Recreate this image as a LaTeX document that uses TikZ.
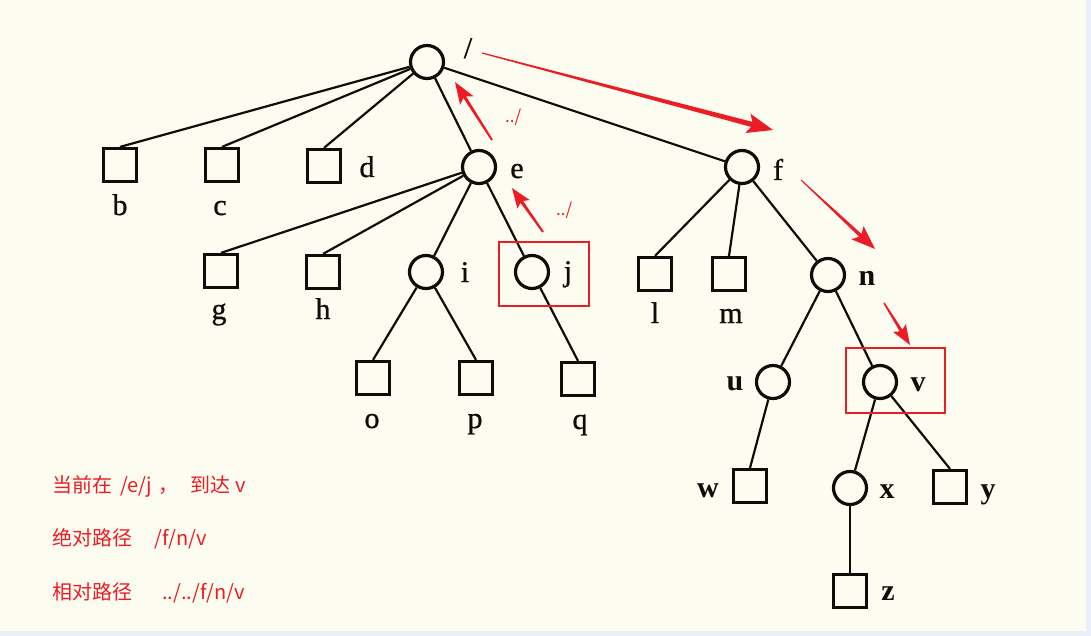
\documentclass[tikz,border=0pt]{standalone}
\usepackage{fontspec}
\setmainfont{Liberation Serif}
\newfontfamily\labfont[FakeBold=0.8]{Liberation Serif}
\newfontfamily\cjk{Noto Sans CJK SC}
\usetikzlibrary{calc}
\definecolor{paper}{RGB}{253,252,240}
\definecolor{edgeblue}{RGB}{234,240,250}
\definecolor{annred}{RGB}{236,28,36}
\definecolor{ink}{RGB}{15,12,10}
\tikzset{
  dirn/.style={circle, draw=ink, line width=3.2pt, minimum size=33pt, inner sep=0pt, fill=paper},
  filebox/.style={rectangle, draw=ink, line width=3.2pt, minimum size=33pt, inner sep=0pt, fill=paper},
  edge/.style={draw=ink, line width=2.2pt},
  lab/.style={font=\labfont\fontsize{30}{30}\selectfont, text=ink, inner sep=0pt, anchor=base},
  blab/.style={lab, font=\fontsize{30}{30}\selectfont\bfseries},
  note/.style={font=\cjk\fontsize{20}{20}\selectfont, text=annred, inner sep=0pt, anchor=base west},
  dotnote/.style={note, font=\cjk\fontsize{17}{17}\selectfont},
  markbox/.style={draw=annred, line width=1.6pt},
}
% #1 tail, #2 tip, #3 tail half width, #4 shaft half width, #5 head length, #6 head half width, #7 notch
\newcommand{\redarrow}[7]{%
  \coordinate (hb) at ($(#2)!#5pt!(#1)$);
  \coordinate (hn) at ($(#2)!#5pt-#7pt!(#1)$);
  \fill[annred] ($(#1)!#3pt!90:(#2)$) -- ($(hn)!#4pt!90:(#2)$) -- ($(hb)!#6pt!90:(#2)$) -- (#2)
     -- ($(hb)!#6pt!-90:(#2)$) -- ($(hn)!#4pt!-90:(#2)$) -- ($(#1)!#3pt!-90:(#2)$) -- cycle;
}
\begin{document}
\begin{tikzpicture}[x=1pt, y=-1pt]
\useasboundingbox (0,0) rectangle (1091,636);
\fill[paper] (0,0) rectangle (1091,636);
\fill[edgeblue] (1086,0) rectangle (1091,636);
\fill[edgeblue] (0,631) rectangle (1091,636);

% tree nodes
\node[dirn] (root) at (427,62) {};
\node[filebox] (b) at (120,165) {};
\node[filebox] (c) at (222,165) {};
\node[filebox] (d) at (324,166) {};
\node[dirn] (e) at (479,167) {};
\node[dirn] (f) at (742,167) {};
\node[filebox] (g) at (221,271) {};
\node[filebox] (h) at (323,272) {};
\node[dirn] (i) at (426,272) {};
\node[dirn] (j) at (532,272) {};
\node[filebox] (l) at (655,274) {};
\node[filebox] (m) at (729,274) {};
\node[dirn] (n) at (828,275) {};
\node[filebox] (o) at (373,378) {};
\node[filebox] (p) at (476,378) {};
\node[filebox] (q) at (578,379) {};
\node[dirn] (u) at (773,382) {};
\node[dirn] (v) at (880,382) {};
\node[filebox] (w) at (750,486) {};
\node[dirn] (x) at (850,488) {};
\node[filebox] (y) at (950,487) {};
\node[filebox] (z) at (850,591) {};

% edges
\draw[edge] (root) -- (b.north);
\draw[edge] (root) -- (c.north);
\draw[edge] (root) -- (d.north);
\draw[edge] (root) -- (e);
\draw[edge] (root) -- (f);
\draw[edge] (e) -- (g.north);
\draw[edge] (e) -- (h.north);
\draw[edge] (e) -- (i);
\draw[edge] (e) -- (j);
\draw[edge] (f) -- (l.north);
\draw[edge] (f) -- (m.north);
\draw[edge] (f) -- (n);
\draw[edge] (i) -- (o.north);
\draw[edge] (i) -- (p.north);
\draw[edge] (j) -- (q.north);
\draw[edge] (n) -- (u);
\draw[edge] (n) -- (v);
\draw[edge] (u) -- (w.north);
\draw[edge] (v) -- (x);
\draw[edge] (v) -- (y.north);
\draw[edge] (x) -- (z.north);

% labels
\node[lab] (lroot) at (468,58) {/};
\node[lab] (lb) at (120,215) {b};
\node[lab] (lc) at (220,215) {c};
\node[lab] (ld) at (367,177) {d};
\node[lab] (le) at (517,178) {e};
\node[lab] (lf) at (778,180) {f};
\node[lab] (lg) at (219,319) {g};
\node[lab] (lh) at (323,319) {h};
\node[lab] (li) at (465,282) {i};
\node[lab] (lj) at (568,281) {j};
\node[lab] (ll) at (655,323) {l};
\node[lab] (lm) at (731,323) {m};
\node[lab] (lo) at (372,428) {o};
\node[lab] (lp) at (475,428) {p};
\node[lab] (lq) at (580,429) {q};
\node[blab] (ln) at (867,285) {n};
\node[blab] (lu) at (735,390) {u};
\node[blab] (lv) at (918,391) {v};
\node[blab] (lw) at (708,497) {w};
\node[blab] (lx) at (887,498) {x};
\node[blab] (ly) at (988,498) {y};
\node[blab] (lz) at (888,600) {z};

% red marking boxes
\draw[markbox] (499,242) rectangle (589,306);
\draw[markbox] (846,348) rectangle (945,413);

% red arrows
\coordinate (a1s) at (482,53);  \coordinate (a1e) at (773,130);
\coordinate (a2s) at (801,180); \coordinate (a2e) at (875,249);
\coordinate (a3s) at (492,140); \coordinate (a3e) at (455,82);
\coordinate (a4s) at (543,232); \coordinate (a4e) at (512,188);
\coordinate (a5s) at (884,303); \coordinate (a5e) at (910,345);
\redarrow{a1s}{a1e}{0.6}{2.6}{26}{10}{4}
\redarrow{a2s}{a2e}{0.5}{1.8}{24}{9}{4}
\redarrow{a3s}{a3e}{1}{1.6}{22}{8}{4}
\redarrow{a4s}{a4e}{1}{1.6}{20}{7.5}{3}
\redarrow{a5s}{a5e}{0.8}{1.6}{20}{7.5}{3}

% dot labels
\node[dotnote] (up1) at (505,123) {../};
\node[dotnote] (up2) at (556,216) {../};

% notes
\node[note] (t1a) at (52,492) {当前在};
\node[note] (t1b) at (120,492) {/e/j};
\node[note] (t1c) at (158,492) {，};
\node[note] (t1d) at (190,492) {到达};
\node[note] (t1e) at (235,492) {v};
\node[note] (t2a) at (52,545) {绝对路径};
\node[note] (t2b) at (154,545) {/f/n/v};
\node[note] (t3a) at (52,599) {相对路径};
\node[note] (t3b) at (162,599) {../../f/n/v};
\end{tikzpicture}
\end{document}
